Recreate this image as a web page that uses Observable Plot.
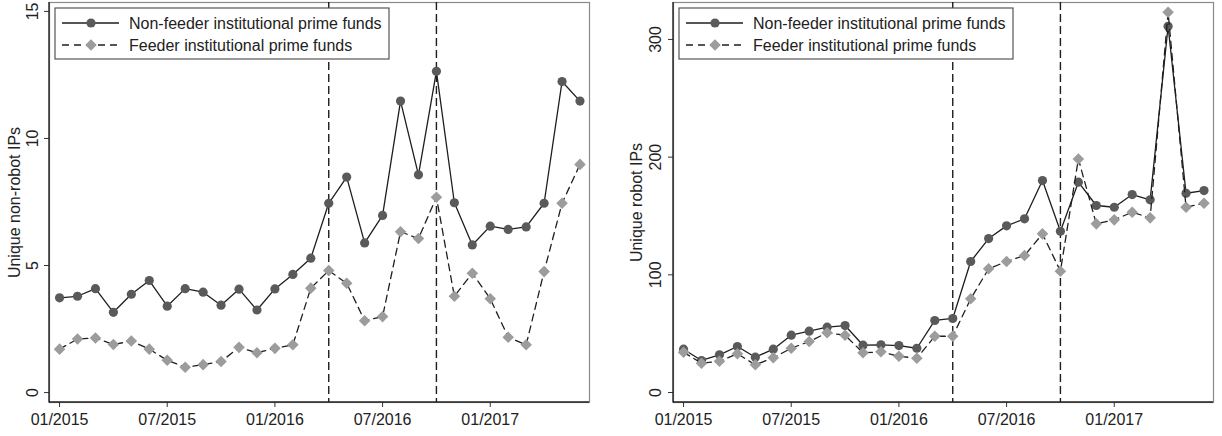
<!DOCTYPE html>
<html>
<head>
<meta charset="utf-8">
<script src="https://cdn.jsdelivr.net/npm/d3@7"></script>
<script src="https://cdn.jsdelivr.net/npm/@observablehq/plot@0.6"></script>
<style>
  html, body { margin: 0; padding: 0; background: #fff; }
  #row { display: flex; flex-direction: row; width: 1222px; height: 436px; }
  svg { font-family: "Liberation Sans", Arial, sans-serif; }
</style>
</head>
<body>
<div id="row"></div>
<script>
const months = ["2015-01","2015-02","2015-03","2015-04","2015-05","2015-06","2015-07","2015-08","2015-09","2015-10","2015-11","2015-12",
                "2016-01","2016-02","2016-03","2016-04","2016-05","2016-06","2016-07","2016-08","2016-09","2016-10","2016-11","2016-12",
                "2017-01","2017-02","2017-03","2017-04","2017-05","2017-06"];
const tickMonths = ["2015-01","2015-07","2016-01","2016-07","2017-01"];
const tickLabels = ["01/2015","07/2015","01/2016","07/2016","01/2017"];
const eventMonths = ["2016-04","2016-10"];
const seriesNames = ["Non-feeder institutional prime funds", "Feeder institutional prime funds"];

const nonRobotNonFeeder = [3.73,3.79,4.09,3.16,3.87,4.41,3.40,4.09,3.95,3.44,4.07,3.25,4.08,4.65,5.29,7.45,8.48,5.89,6.97,11.47,8.57,12.64,7.47,5.81,6.55,6.42,6.52,7.45,12.24,11.47];
const nonRobotFeeder    = [1.71,2.11,2.15,1.89,2.03,1.71,1.27,1.00,1.10,1.22,1.78,1.57,1.74,1.88,4.11,4.80,4.30,2.83,2.99,6.33,6.06,7.69,3.79,4.70,3.69,2.18,1.88,4.76,7.45,8.98];
const robotNonFeeder = [36.8,27.2,32.0,39.1,30.0,36.8,48.7,52.1,55.5,56.9,40.2,40.5,39.9,37.6,61.2,62.9,111.3,130.8,141.6,147.6,180.1,137.0,178.7,158.9,157.4,168.2,163.7,311.2,169.3,171.6];
const robotFeeder    = [34.2,24.9,26.6,32.9,23.5,29.5,37.6,43.3,50.7,48.7,33.7,34.6,30.8,29.1,47.8,47.8,79.6,105.1,111.3,116.4,134.8,103.1,198.5,143.3,146.7,153.2,148.4,323.1,157.4,160.8];

const leftYTicks = [0, 5, 10, 15];
const rightYTicks = [0, 100, 200, 300];

const DARK = "#5a5a5a", LIGHT = "#9c9c9c", LINE = "#1e1e1e", TXT = "#222";

function makeChart({a, b, yTicks, yDomain, yTitle, width, marginLeft, marginRight, tickDx, titleDx}) {
  const rowsA = months.map((m, i) => ({i, v: a[i]}));
  const rowsB = months.map((m, i) => ({i, v: b[i]}));
  const xTickIdx = tickMonths.map(m => months.indexOf(m));
  const evIdx = eventMonths.map(m => months.indexOf(m));
  const plot = Plot.plot({
    width, height: 436,
    marginLeft, marginRight, marginTop: 2, marginBottom: 34,
    style: {fontFamily: "Liberation Sans, Arial, sans-serif", fontSize: "16px", color: TXT, background: "#fff"},
    x: {domain: [-0.56, 29.53], axis: null},
    y: {domain: yDomain, axis: null},
    marks: [
      Plot.frame({stroke: "#8a8a8a", strokeWidth: 1.2}),
      Plot.axisX({ticks: xTickIdx, tickSize: 5, tickPadding: 6, label: null, tickFormat: d => tickLabels[xTickIdx.indexOf(d)], fontSize: 16, stroke: "#333", fill: TXT}),
      Plot.axisY({ticks: yTicks, tickSize: 5, label: null, tickFormat: () => "", stroke: "#333"}),
      Plot.text(yTicks, {y: d => d, text: d => String(d), frameAnchor: "left", textAnchor: "middle", lineAnchor: "middle", dx: tickDx, rotate: -90, fontSize: 16, fill: TXT}),
      Plot.text([yTitle], {frameAnchor: "left", textAnchor: "middle", lineAnchor: "middle", dx: titleDx, rotate: -90, fontSize: 16, fill: TXT}),
      Plot.ruleX(evIdx, {x: d => d, stroke: LINE, strokeWidth: 1.4, strokeDasharray: "8,4"}),
      Plot.line(rowsA, {x: "i", y: "v", stroke: LINE, strokeWidth: 1.3}),
      Plot.dot(rowsA, {x: "i", y: "v", r: 4.6, fill: DARK, stroke: "none"}),
      Plot.line(rowsB, {x: "i", y: "v", stroke: LINE, strokeWidth: 1.3, strokeDasharray: "7,5"}),
      Plot.dot(rowsB, {x: "i", y: "v", r: 5.2, symbol: "diamond2", fill: LIGHT, stroke: "none"})
    ]
  });
  // dark axis lines on left and bottom edges of the plot region
  const sx = plot.scale("x").range, sy = plot.scale("y").range;
  const svg = d3.select(plot);
  const x0 = Math.min(...sx), x1 = Math.max(...sx), y0 = Math.max(...sy), y1 = Math.min(...sy);
  svg.append("line").attr("x1", x0).attr("x2", x0).attr("y1", y1).attr("y2", y0 + 0.5).attr("stroke", "#222").attr("stroke-width", 1.4);
  svg.append("line").attr("x1", x0).attr("x2", x1).attr("y1", y0).attr("y2", y0).attr("stroke", "#222").attr("stroke-width", 1.4);
  // legend
  const lx = x0 + 6, ly = 8, lw = 334, lh = 51;
  const g = svg.append("g").attr("text-anchor", "start");
  g.append("rect").attr("x", lx).attr("y", ly).attr("width", lw).attr("height", lh)
    .attr("fill", "#fff").attr("stroke", "#555").attr("stroke-width", 1.2);
  const rows = [{y: ly + 15, dash: null, sym: "circle"}, {y: ly + 37, dash: "7,5", sym: "diamond"}];
  rows.forEach((r, k) => {
    g.append("line").attr("x1", lx + 7).attr("x2", lx + 64).attr("y1", r.y).attr("y2", r.y)
      .attr("stroke", LINE).attr("stroke-width", 1.3).attr("stroke-dasharray", r.dash);
    if (r.sym === "circle") {
      g.append("circle").attr("cx", lx + 36).attr("cy", r.y).attr("r", 4.6).attr("fill", DARK);
    } else {
      g.append("path").attr("d", d3.symbol(d3.symbolDiamond2, Math.PI * 27)()).attr("transform", `translate(${lx + 36},${r.y})`).attr("fill", LIGHT);
    }
    g.append("text").attr("x", lx + 74).attr("y", r.y).attr("dy", "0.36em").attr("text-anchor", "start")
      .attr("font-size", 16).attr("fill", TXT).text(seriesNames[k]);
  });
  return plot;
}

const row = document.getElementById("row");
row.appendChild(makeChart({a: nonRobotNonFeeder, b: nonRobotFeeder, yTicks: leftYTicks, yDomain: [-0.39, 15.35], yTitle: "Unique non-robot IPs", width: 611, marginLeft: 49, marginRight: 22, tickDx: -17, titleDx: -35}));
row.appendChild(makeChart({a: robotNonFeeder, b: robotFeeder, yTicks: rightYTicks, yDomain: [-8.5, 331.4], yTitle: "Unique robot IPs", width: 611, marginLeft: 62, marginRight: 9, tickDx: -18, titleDx: -37}));
</script>
</body>
</html>
